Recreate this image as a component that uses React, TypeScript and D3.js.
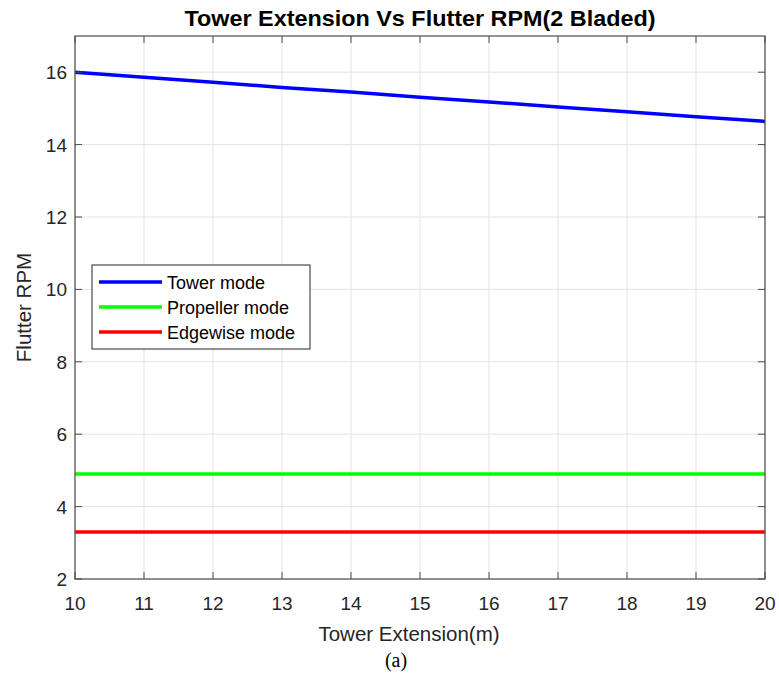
import React from "react";
import * as d3 from "d3";

const xValues = [10, 11, 12, 13, 14, 15, 16, 17, 18, 19, 20];
const towerMode = [16.0, 15.86, 15.72, 15.58, 15.45, 15.31, 15.18, 15.04, 14.91, 14.77, 14.64];
const propellerMode = [4.9, 4.9, 4.9, 4.9, 4.9, 4.9, 4.9, 4.9, 4.9, 4.9, 4.9];
const edgewiseMode = [3.3, 3.3, 3.3, 3.3, 3.3, 3.3, 3.3, 3.3, 3.3, 3.3, 3.3];
const xTicks = [10, 11, 12, 13, 14, 15, 16, 17, 18, 19, 20];
const yTicks = [2, 4, 6, 8, 10, 12, 14, 16];
const seriesNames = ["Tower mode", "Propeller mode", "Edgewise mode"];
const seriesColors = ["#0000ff", "#00ff00", "#ff0000"];

export default function App() {
  const W = 779, H = 683;
  const left = 75, right = 765, top = 36, bottom = 579;
  const x = d3.scaleLinear().domain([10, 20]).range([left, right]);
  const y = d3.scaleLinear().domain([2, 17]).range([bottom, top]);
  const series = [towerMode, propellerMode, edgewiseMode];
  const line = d3.line<number>().x((_, i) => x(xValues[i])).y((d) => y(d));
  const font = "'Liberation Sans', Arial, Helvetica, sans-serif";
  const axisColor = "#4d4d4d";
  const tickLen = 7;
  const lg = { x: 92, y: 265, w: 218, h: 84 };
  return (
    <svg width={W} height={H} style={{ position: "absolute", left: 0, top: 0 }}>
      <rect x={0} y={0} width={W} height={H} fill="#fff" />
      {xTicks.map((t) => (
        <line key={"gx" + t} x1={x(t)} x2={x(t)} y1={top} y2={bottom} stroke="#e3e3e3" strokeWidth={1} />
      ))}
      {yTicks.map((t) => (
        <line key={"gy" + t} x1={left} x2={right} y1={y(t)} y2={y(t)} stroke="#e3e3e3" strokeWidth={1} />
      ))}
      {series.map((s, i) => (
        <path key={i} d={line(s) || ""} fill="none" stroke={seriesColors[i]} strokeWidth={3.5} />
      ))}
      <rect x={left} y={top} width={right - left} height={bottom - top} fill="none" stroke={axisColor} strokeWidth={1.2} />
      {xTicks.map((t) => (
        <g key={"tx" + t}>
          <line x1={x(t)} x2={x(t)} y1={bottom} y2={bottom - tickLen} stroke={axisColor} />
          <line x1={x(t)} x2={x(t)} y1={top} y2={top + tickLen} stroke={axisColor} />
          <text x={x(t)} y={bottom + 31} textAnchor="middle" fontFamily={font} fontSize={19} fill="#262626">{t}</text>
        </g>
      ))}
      {yTicks.map((t) => (
        <g key={"ty" + t}>
          <line x1={left} x2={left + tickLen} y1={y(t)} y2={y(t)} stroke={axisColor} />
          <line x1={right} x2={right - tickLen} y1={y(t)} y2={y(t)} stroke={axisColor} />
          <text x={left - 8} y={y(t) + 7} textAnchor="end" fontFamily={font} fontSize={19} fill="#262626">{t}</text>
        </g>
      ))}
      <text x={(left + right) / 2} y={25.5} textAnchor="middle" fontFamily={font} fontSize={22} fontWeight="bold" fill="#000" textLength={471} lengthAdjust="spacingAndGlyphs">
        Tower Extension Vs Flutter RPM(2 Bladed)
      </text>
      <text x={409} y={641} textAnchor="middle" fontFamily={font} fontSize={20.5} fill="#262626">
        Tower Extension(m)
      </text>
      <text transform={`translate(31, ${(top + bottom) / 2}) rotate(-90)`} textAnchor="middle" fontFamily={font} fontSize={20.5} fill="#262626">
        Flutter RPM
      </text>
      <text x={396} y={667} textAnchor="middle" fontFamily="'Liberation Serif', 'Times New Roman', serif" fontSize={20} fill="#000">
        (a)
      </text>
      <rect x={lg.x} y={lg.y} width={lg.w} height={lg.h} fill="#fff" stroke="#262626" strokeWidth={1} />
      {seriesNames.map((n, i) => (
        <g key={"lg" + i}>
          <line x1={lg.x + 7} x2={lg.x + 70} y1={lg.y + 17 + i * 25} y2={lg.y + 17 + i * 25} stroke={seriesColors[i]} strokeWidth={3.5} />
          <text x={lg.x + 75} y={lg.y + 24 + i * 25} fontFamily={font} fontSize={18} fill="#000">{n}</text>
        </g>
      ))}
    </svg>
  );
}
